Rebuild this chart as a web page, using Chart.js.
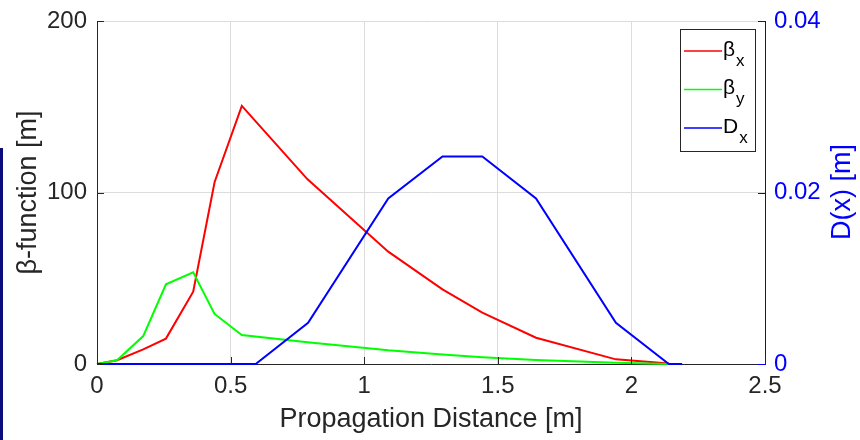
<!DOCTYPE html>
<html>
<head>
<meta charset="utf-8">
<script src="https://cdn.jsdelivr.net/npm/chart.js@4"></script>
<style>
  html, body { margin: 0; padding: 0; background: #fff; }
  #wrap { position: relative; width: 860px; height: 440px; }
  #edge { position: absolute; left: 0; top: 148px; width: 3px; height: 292px; background: #0b0b7c; }
</style>
</head>
<body>
<div id="wrap">
  <canvas id="beta-chart" width="860" height="440"></canvas>
  <div id="edge"></div>
</div>
<script>
// values
const betaXs = [0, 0.075, 0.173, 0.258, 0.36, 0.44, 0.542, 0.788, 1.09, 1.293, 1.442, 1.643, 1.942, 2.14];
const betaX = [0, 2.2, 8.5, 14.8, 42.2, 106, 150.5, 107.7, 65.5, 43.5, 29.9, 15.3, 2.7, 0.3];
const betaY = [0, 2.2, 16.3, 46.5, 53.5, 29.2, 16.9, 12.7, 8.0, 5.6, 4.0, 2.3, 0.8, 0];
const dispXs = [0, 0.594, 0.79, 1.09, 1.293, 1.442, 1.643, 1.942, 2.14, 2.19];
const dispX = [0, 0, 0.0048, 0.0193, 0.0242, 0.0242, 0.0193, 0.0048, 0, 0];

const xTicks = [0, 0.5, 1, 1.5, 2, 2.5];
const xTickLabels = ["0", "0.5", "1", "1.5", "2", "2.5"];
const leftTicks = [0, 100, 200];
const leftTickLabels = ["0", "100", "200"];
const rightTicks = [0, 0.02, 0.04];
const rightTickLabels = ["0", "0.02", "0.04"];

const legendItems = [
  { main: "β", sub: "x", color: "#ff0000" },
  { main: "β", sub: "y", color: "#00ff00" },
  { main: "D", sub: "x", color: "#0000ff" }
];

const FONT = '"Liberation Sans", Arial, sans-serif';
const TEXT = "#262626";
const BLUE = "#0000ff";

const toPoints = (xs, ys) => xs.map((x, i) => ({ x, y: ys[i] }));
const fixTicks = (values) => (scale) => {
  scale.ticks = values.map((value) => ({ value }));
};
const labelFrom = (values, labels) => (value) => {
  const i = values.indexOf(value);
  return i >= 0 ? labels[i] : String(value);
};
const fitVertical = (width) => (s) => {
  s.width = width;
  s.paddingTop = 0;
  s.paddingBottom = 0;
};

// MATLAB-ish decorations: inward ticks, subscript legend, rotated right label
const matlabBits = {
  id: "matlabBits",
  afterDatasetsDraw(chart) {
    const { ctx, chartArea: a, scales } = chart;
    const len = 7;
    ctx.save();
    ctx.lineWidth = 1;
    ctx.strokeStyle = TEXT;
    ctx.beginPath();
    for (const v of xTicks) {
      const px = Math.round(scales.x.getPixelForValue(v)) + 0.5;
      ctx.moveTo(px, a.bottom);
      ctx.lineTo(px, a.bottom - len);
    }
    for (const v of leftTicks) {
      const py = Math.round(scales.y.getPixelForValue(v)) + 0.5;
      ctx.moveTo(a.left, py);
      ctx.lineTo(a.left + len, py);
    }
    ctx.stroke();
    ctx.strokeStyle = BLUE;
    ctx.beginPath();
    for (const v of rightTicks) {
      const py = Math.round(scales.y1.getPixelForValue(v)) + 0.5;
      ctx.moveTo(a.right, py);
      ctx.lineTo(a.right - len, py);
    }
    ctx.stroke();

    // legend box
    const bx = 680.5, by = 29.5, bw = 75, bh = 122;
    ctx.fillStyle = "#fff";
    ctx.fillRect(bx, by, bw, bh);
    ctx.strokeStyle = TEXT;
    ctx.strokeRect(bx, by, bw, bh);
    legendItems.forEach((item, i) => {
      const y = 51 + i * 38.5;
      ctx.strokeStyle = item.color;
      ctx.lineWidth = 1.5;
      ctx.beginPath();
      ctx.moveTo(684, y);
      ctx.lineTo(722, y);
      ctx.stroke();
      ctx.fillStyle = "#000";
      ctx.textBaseline = "middle";
      ctx.textAlign = "left";
      ctx.font = "21px " + FONT;
      ctx.fillText(item.main, 723, y - 1);
      const w = ctx.measureText(item.main).width;
      ctx.font = "17px " + FONT;
      ctx.fillText(item.sub, 723 + w + 1, y + 10);
    });

    // right axis title, reading bottom to top
    ctx.translate(843, 192);
    ctx.rotate(-Math.PI / 2);
    ctx.font = "27px " + FONT;
    ctx.fillStyle = BLUE;
    ctx.textAlign = "center";
    ctx.textBaseline = "middle";
    ctx.fillText("D(x) [m]", 0, 0);
    ctx.restore();
  }
};

const lineStyle = { fill: false, tension: 0, pointRadius: 0, borderWidth: 2, clip: false };

new Chart(document.getElementById("beta-chart"), {
  type: "line",
  data: {
    datasets: [
      { ...lineStyle, label: "βx", data: toPoints(betaXs, betaX), borderColor: "#ff0000", yAxisID: "y", order: 3 },
      { ...lineStyle, label: "βy", data: toPoints(betaXs, betaY), borderColor: "#00ff00", yAxisID: "y", order: 2 },
      { ...lineStyle, label: "Dx", data: toPoints(dispXs, dispX), borderColor: "#0000ff", yAxisID: "y1", order: 1 }
    ]
  },
  options: {
    responsive: false,
    animation: false,
    events: [],
    layout: { padding: { top: 21, left: 0, right: 0, bottom: 0 } },
    plugins: { legend: { display: false }, tooltip: { enabled: false } },
    scales: {
      x: {
        type: "linear",
        min: 0,
        max: 2.5,
        afterBuildTicks: fixTicks(xTicks),
        afterFit: (s) => { s.height = 76; s.paddingLeft = 0; s.paddingRight = 0; },
        grid: { color: "#dcdcdc", lineWidth: 1, drawTicks: false },
        border: { color: TEXT, width: 1 },
        ticks: {
          color: TEXT,
          font: { family: FONT, size: 24 },
          padding: 8,
          maxRotation: 0,
          callback: labelFrom(xTicks, xTickLabels)
        },
        title: {
          display: true,
          text: "Propagation Distance [m]",
          color: TEXT,
          font: { family: FONT, size: 27 },
          padding: { top: 0, bottom: 4 }
        }
      },
      y: {
        position: "left",
        min: 0,
        max: 200,
        afterBuildTicks: fixTicks(leftTicks),
        afterFit: fitVertical(97),
        grid: { color: "#dcdcdc", lineWidth: 1, drawTicks: false },
        border: { color: TEXT, width: 1 },
        ticks: {
          color: TEXT,
          font: { family: FONT, size: 24 },
          padding: 10,
          callback: labelFrom(leftTicks, leftTickLabels)
        },
        title: {
          display: true,
          text: "β-function [m]",
          color: TEXT,
          font: { family: FONT, size: 27 },
          padding: { top: 12, bottom: 0 }
        }
      },
      y1: {
        position: "right",
        min: 0,
        max: 0.04,
        afterBuildTicks: fixTicks(rightTicks),
        afterFit: fitVertical(95),
        grid: { display: false, drawTicks: false },
        border: { color: BLUE, width: 1 },
        ticks: {
          color: BLUE,
          font: { family: FONT, size: 24 },
          padding: 9,
          callback: labelFrom(rightTicks, rightTickLabels)
        }
      }
    }
  },
  plugins: [matlabBits]
});
</script>
</body>
</html>
